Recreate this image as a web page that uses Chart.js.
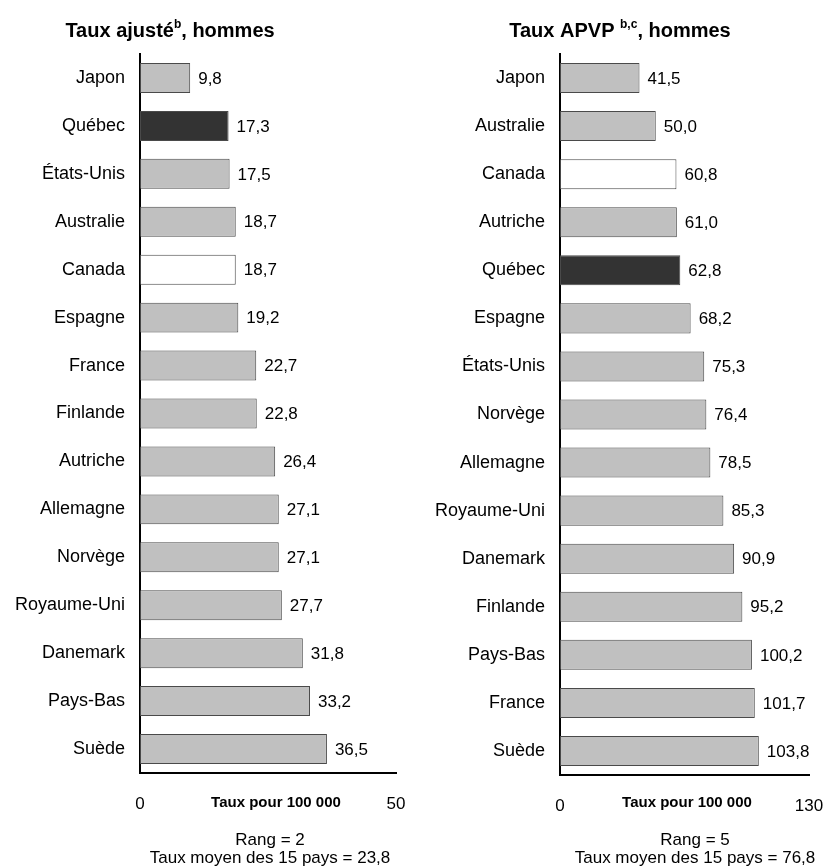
<!DOCTYPE html>
<html>
<head>
<meta charset="utf-8">
<script src="https://cdn.jsdelivr.net/npm/chart.js@4"></script>
<style>
html,body{margin:0;padding:0;background:#fff;}
#wrap{position:relative;width:830px;height:868px;}
canvas{position:absolute;top:0;}
</style>
</head>
<body>
<div id="wrap">
<canvas id="c1" width="415" height="868" style="left:0"></canvas>
<canvas id="c2" width="415" height="868" style="left:415px"></canvas>
</div>
<script>
const leftCategories = ["Japon","Québec","États-Unis","Australie","Canada","Espagne","France","Finlande","Autriche","Allemagne","Norvège","Royaume-Uni","Danemark","Pays-Bas","Suède"];
const leftValues = [9.8,17.3,17.5,18.7,18.7,19.2,22.7,22.8,26.4,27.1,27.1,27.7,31.8,33.2,36.5];
const leftTicks = [0,50];

const rightCategories = ["Japon","Australie","Canada","Autriche","Québec","Espagne","États-Unis","Norvège","Allemagne","Royaume-Uni","Danemark","Finlande","Pays-Bas","France","Suède"];
const rightValues = [41.5,50.0,60.8,61.0,62.8,68.2,75.3,76.4,78.5,85.3,90.9,95.2,100.2,101.7,103.8];
const rightTicks = [0,130];

const axisTitle = "Taux pour 100 000";
const leftNotes = ["Rang = 2","Taux moyen des 15 pays = 23,8"];
const rightNotes = ["Rang = 5","Taux moyen des 15 pays = 76,8"];

const FONT = "'Liberation Sans', Arial, Helvetica, sans-serif";

function fillFor(cat){
  if (cat === "Québec") return "#333333";
  if (cat === "Canada") return "#ffffff";
  return "#c0c0c0";
}
function fmt(v){ return v.toFixed(1).replace('.', ','); }

function makeChart(id, cats, vals, ticks, cfg){
  const overlay = {
    id: 'overlay',
    afterDraw(chart){
      const ctx = chart.ctx;
      ctx.save();
      ctx.fillStyle = '#000';
      ctx.font = "17px " + FONT;
      ctx.textAlign = 'left';
      ctx.textBaseline = 'middle';
      const meta = chart.getDatasetMeta(0);
      meta.data.forEach((bar, i) => {
        ctx.fillText(fmt(vals[i]), bar.x + 8, bar.y + 1);
      });
      const parts = cfg.title;
      let total = 0;
      parts.forEach(p => { ctx.font = (p.sup ? "bold 12px " : "bold 20px ") + FONT; total += ctx.measureText(p.t).width; });
      let x = cfg.titleX - total/2;
      ctx.textAlign = 'left';
      ctx.textBaseline = 'alphabetic';
      parts.forEach(p => {
        ctx.font = (p.sup ? "bold 12px " : "bold 20px ") + FONT;
        ctx.fillText(p.t, x, p.sup ? 28 : 37);
        x += ctx.measureText(p.t).width;
      });
      ctx.font = "bold 15px " + FONT;
      ctx.textAlign = 'center';
      ctx.textBaseline = 'middle';
      ctx.fillText(axisTitle, cfg.axisTitleX, cfg.axisTitleY);
      ctx.font = "17px " + FONT;
      ctx.fillText(cfg.notes[0], cfg.notesX, 840);
      ctx.fillText(cfg.notes[1], cfg.notesX, 858);
      ctx.restore();
    }
  };
  return new Chart(document.getElementById(id), {
    type: 'bar',
    data: {
      labels: cats,
      datasets: [{
        data: vals,
        backgroundColor: cats.map(fillFor),
        borderColor: '#4a4a4a',
        borderWidth: 1,
        borderSkipped: false,
        barPercentage: 0.625,
        categoryPercentage: 1.0
      }]
    },
    options: {
      indexAxis: 'y',
      responsive: false,
      animation: false,
      devicePixelRatio: 1,
      layout: { padding: { left: 0, top: 54, right: cfg.padRight, bottom: 0 } },
      plugins: { legend: { display: false }, tooltip: { enabled: false }, title: { display: false } },
      scales: {
        x: {
          min: ticks[0], max: ticks[ticks.length-1],
          afterBuildTicks: s => { s.ticks = ticks.map(v => ({ value: v })); },
          afterFit: s => { s.height = cfg.xHeight; s.paddingLeft = 0; s.paddingRight = 0; },
          grid: { display: false, drawTicks: false },
          border: { display: true, color: '#000', width: 2 },
          ticks: { color: '#000', font: { family: FONT, size: 17 }, padding: 21, maxRotation: 0, autoSkip: false }
        },
        y: {
          afterFit: s => { s.width = cfg.yWidth; s.paddingTop = 0; s.paddingBottom = 0; },
          grid: { display: false, drawTicks: false },
          border: { display: true, color: '#000', width: 2 },
          ticks: { color: '#000', font: { family: FONT, size: 18 }, padding: 15, autoSkip: false }
        }
      }
    },
    plugins: [overlay]
  });
}

makeChart('c1', leftCategories, leftValues, leftTicks, {
  title: [{t:"Taux ajusté"},{t:"b",sup:true},{t:", hommes"}],
  titleX: 170, axisTitleX: 276, axisTitleY: 803, notesX: 270,
  notes: leftNotes, padRight: 19, xHeight: 95, yWidth: 140
});
makeChart('c2', rightCategories, rightValues, rightTicks, {
  title: [{t:"Taux APVP "},{t:"b,c",sup:true},{t:", hommes"}],
  titleX: 205, axisTitleX: 272, axisTitleY: 803, notesX: 280,
  notes: rightNotes, padRight: 21, xHeight: 93, yWidth: 145
});
</script>
</body>
</html>
